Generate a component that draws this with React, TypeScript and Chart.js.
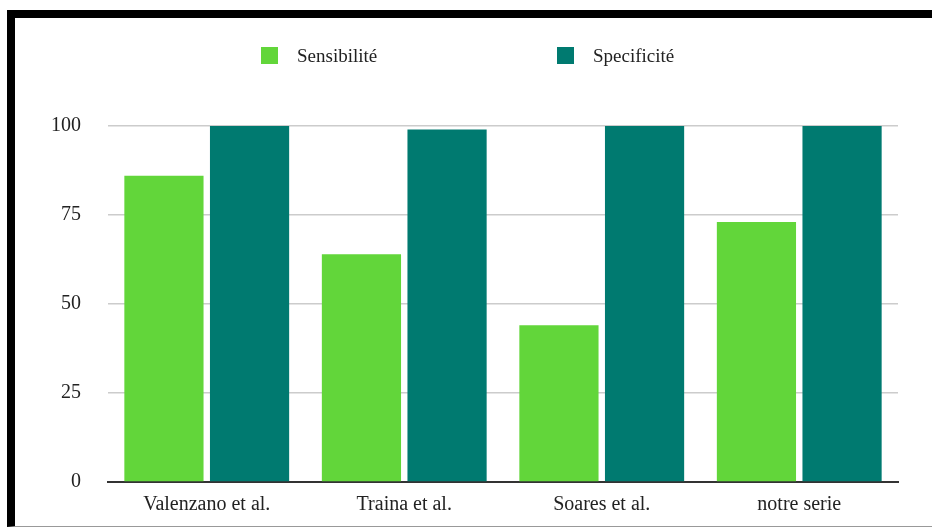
import React, { useEffect, useRef } from "react";
import { Chart, registerables } from "chart.js";

Chart.register(...registerables);

const categories = ["Valenzano et al.", "Traina et al.", "Soares et al.", "notre serie"];
const seriesNames = ["Sensibilité", "Specificité"];
const sensibilite = [86, 64, 44, 73];
const specificite = [100, 99, 100, 100];
const seriesColors = ["#62D63A", "#007A70"];
const yTicks = [0, 25, 50, 75, 100];

const FONT = "'Liberation Serif', 'Times New Roman', serif";

const legendPlugin = {
  id: "customLegend",
  afterDraw(chart: any) {
    const ctx = chart.ctx;
    ctx.save();
    chart.data.datasets.forEach((ds: any, i: number) => {
      const x = 246 + i * 296;
      const y = 29;
      ctx.fillStyle = ds.backgroundColor;
      ctx.fillRect(x, y, 17, 17);
      ctx.fillStyle = "#222";
      ctx.font = `19px ${FONT}`;
      ctx.textBaseline = "middle";
      ctx.textAlign = "left";
      ctx.fillText(ds.label, x + 36, y + 10);
    });
    ctx.restore();
  },
};

export default function App() {
  const ref = useRef<HTMLCanvasElement | null>(null);

  useEffect(() => {
    if (!ref.current) return;
    const chart = new Chart(ref.current, {
      type: "bar",
      data: {
        labels: categories,
        datasets: [
          { label: seriesNames[0], data: sensibilite, backgroundColor: seriesColors[0] },
          { label: seriesNames[1], data: specificite, backgroundColor: seriesColors[1] },
        ],
      },
      options: {
        responsive: false,
        animation: false,
        layout: { padding: { top: 108, right: 34, left: 0, bottom: 0 } },
        plugins: { legend: { display: false }, tooltip: { enabled: false } },
        datasets: { bar: { categoryPercentage: 0.867, barPercentage: 0.925 } },
        scales: {
          x: {
            grid: { display: false, drawTicks: false },
            border: { display: true, color: "#333", width: 2 },
            ticks: { font: { family: FONT, size: 20 }, color: "#222", padding: 11 },
            afterFit(scale: any) {
              scale.height = 44;
            },
          },
          y: {
            min: 0,
            max: 100,
            afterBuildTicks(scale: any) {
              scale.ticks = yTicks.map((v) => ({ value: v }));
            },
            grid: {
              drawTicks: false,
              color: (c: any) => (c.tick && c.tick.value === 0 ? "rgba(0,0,0,0)" : "#cccccc"),
              lineWidth: 1.5,
            },
            border: { display: false },
            ticks: { font: { family: FONT, size: 20 }, color: "#222", padding: 27 },
            afterFit(scale: any) {
              scale.width = 93;
            },
          },
        },
      },
      plugins: [legendPlugin],
    });
    return () => chart.destroy();
  }, []);

  return (
    <div
      style={{
        position: "absolute",
        left: 7,
        top: 10,
        width: 925,
        height: 517,
        boxSizing: "border-box",
        borderTop: "8px solid #000",
        borderLeft: "8px solid #000",
        borderBottom: "1px solid #999",
        background: "#fff",
      }}
    >
      <canvas ref={ref} width={917} height={508} style={{ display: "block" }} />
    </div>
  );
}
